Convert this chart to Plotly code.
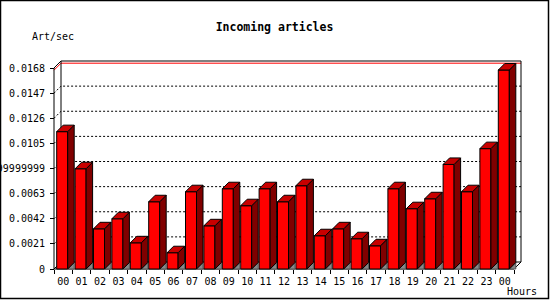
import plotly.graph_objects as go

# ---------------- data ----------------
hours = ["00", "01", "02", "03", "04", "05", "06", "07", "08", "09", "10", "11",
         "12", "13", "14", "15", "16", "17", "18", "19", "20", "21", "22", "23", "00"]
rates = [0.01148, 0.00838, 0.00336, 0.00420, 0.00219, 0.00562, 0.00136, 0.00646,
         0.00361, 0.00671, 0.00529, 0.00671, 0.00562, 0.00696, 0.00278, 0.00336,
         0.00253, 0.00194, 0.00671, 0.00504, 0.00587, 0.00874, 0.00646, 0.01006,
         0.01663]
y_ticks = [0, 0.0021, 0.0042, 0.0063, 0.0084, 0.0105, 0.0126, 0.0147, 0.0168]
y_tick_text = ["0", "0.0021", "0.0042", "0.0063", "0.0083999999999999",
               "0.0105", "0.0126", "0.0147", "0.0168"]
title_text = "Incoming articles"
y_title = "Art/sec"
x_title = "Hours"

# ---------------- geometry (pixels) ----------------
W, H = 550, 300
ML, MR, MT, MB = 44, 24, 56, 26
PW, PH = W - ML - MR, H - MT - MB
AX_X, AX_Y = 54, 269          # front axes position in pixels
CAT_PX = 18.4                 # pixels per category
STEP_PX = 25.125              # pixels per tick step
STEP = y_ticks[1] - y_ticks[0]
VPP = STEP / STEP_PX          # value per pixel

def xd(px):
    return (px - AX_X) / CAT_PX - 0.5

def yd(py):
    return (AX_Y - py) * VPP

def xp(px):
    return (px - ML) / PW

def yp(py):
    return (H - MB - py) / PH

n = len(rates)
xs = list(range(n))
xmin, xmax = -0.5, n - 0.5
ymax = y_ticks[-1]
dxf, dyf = 7 / CAT_PX, 7 * VPP        # wall depth
dxb, dyb = 6.5 / CAT_PX, 6.5 * VPP    # bar depth
bw = 11 / CAT_PX
boff = -1 / CAT_PX

FONT = "DejaVu Sans Mono"
RED, TOP, SIDE = "#ff0000", "#c80000", "#800000"

shapes = []

def path(points):
    return "M " + " L ".join(f"{a},{b}" for a, b in points)

# back-wall grid lines (with their 3D diagonal part)
for t in y_ticks[1:-1]:
    shapes.append(dict(type="path", xref="x", yref="y", layer="below",
                       path=path([(xmin, t), (xmin + dxf, t + dyf), (xmax + dxf, t + dyf)]),
                       line=dict(color="black", width=1, dash="2px,2px")))
# red top line
s = -2.2 * VPP
shapes.append(dict(type="path", xref="x", yref="y", layer="below",
                   path=path([(xmin, ymax + s), (xmin + dxf, ymax + dyf + s),
                              (xmax + dxf, ymax + dyf + s)]),
                   line=dict(color="red", width=1)))
# frame
shapes.append(dict(type="path", xref="x", yref="y", layer="below",
                   path=path([(xmin, 0), (xmin, ymax), (xmin + dxf, ymax + dyf),
                              (xmax + dxf, ymax + dyf), (xmax + dxf, dyf), (xmax, 0)]) + " Z",
                   line=dict(color="black", width=1)))
shapes.append(dict(type="path", xref="x", yref="y", layer="below",
                   path=path([(xmin + dxf, ymax + dyf), (xmin + dxf, dyf), (xmax + dxf, dyf)]),
                   line=dict(color="black", width=1)))
shapes.append(dict(type="path", xref="x", yref="y", layer="below",
                   path=path([(xmin, 0), (xmin + dxf, dyf)]),
                   line=dict(color="black", width=1)))
# image border
shapes.append(dict(type="rect", xref="paper", yref="paper",
                   x0=xp(0.5), x1=xp(548.5), y0=yp(0.5), y1=yp(298.5),
                   line=dict(color="black", width=1.5), layer="above"))

fig = go.Figure()

# front faces
fig.add_trace(go.Bar(x=[x + boff for x in xs], y=rates, width=bw,
                     marker=dict(color=RED, line=dict(color="black", width=1)),
                     hoverinfo="skip"))

# floor triangles, side faces, top faces
tri_x, tri_y, side_x, side_y, top_x, top_y = [], [], [], [], [], []
for x, v in zip(xs, rates):
    xl = x + boff - bw / 2
    xr = x + boff + bw / 2
    tri_x += [xr, xr + dxb, xr + dxb, xr, None]
    tri_y += [0, dyb, 0, 0, None]
    side_x += [xr, xr, xr + dxb, xr + dxb, xr, None]
    side_y += [0, v, v + dyb, dyb, 0, None]
    top_x += [xl, xl + dxb, xr + dxb, xr, xl, None]
    top_y += [v, v + dyb, v + dyb, v, v, None]

fig.add_trace(go.Scatter(x=tri_x, y=tri_y, mode="lines", fill="toself",
                         fillcolor="#888888", line=dict(color="#555555", width=1),
                         hoverinfo="skip"))
fig.add_trace(go.Scatter(x=side_x, y=side_y, mode="lines", fill="toself",
                         fillcolor=SIDE, line=dict(color="black", width=1),
                         hoverinfo="skip"))
fig.add_trace(go.Scatter(x=top_x, y=top_y, mode="lines", fill="toself",
                         fillcolor=TOP, line=dict(color="black", width=1),
                         hoverinfo="skip"))

fig.update_layout(
    width=W, height=H,
    margin=dict(l=ML, r=MR, t=MT, b=MB, pad=0),
    paper_bgcolor="white", plot_bgcolor="white",
    showlegend=False, hovermode=False,
    font=dict(family=FONT, size=10, color="black"),
    title=dict(text="<b>" + title_text + "</b>", x=(274.5) / W, xref="container",
               xanchor="center", y=1 - 27 / H, yref="container", yanchor="middle",
               font=dict(family=FONT, size=11.5, color="black")),
    xaxis=dict(range=[xd(ML), xd(W - MR)], anchor="free", position=yp(AX_Y),
               showgrid=False, zeroline=False, showline=False,
               tickmode="array", tickvals=xs, ticktext=hours, ticks="",
               ticklabelstandoff=5,
               minor=dict(tickmode="array", tickvals=[x - 0.5 for x in xs] + [xmax],
                          ticks="outside", ticklen=4, tickcolor="black", showgrid=False),
               tickfont=dict(family=FONT, size=10, color="black"),
               fixedrange=True, automargin=False),
    yaxis=dict(range=[yd(H - MB), yd(MT)], anchor="free", position=xp(AX_X),
               showgrid=False, zeroline=False, showline=False,
               tickmode="array", tickvals=y_ticks, ticktext=y_tick_text,
               ticks="outside", ticklen=4, tickcolor="black",
               ticklabelstandoff=3,
               tickfont=dict(family=FONT, size=10, color="black"),
               fixedrange=True, automargin=False),
    shapes=shapes,
    annotations=[
        dict(text=y_title, xref="paper", yref="paper", x=xp(30), y=yp(36.7),
             xanchor="left", yanchor="middle", showarrow=False,
             font=dict(family=FONT, size=10, color="black")),
        dict(text=x_title, xref="paper", yref="paper", x=xp(504.5), y=yp(291.5),
             xanchor="left", yanchor="middle", showarrow=False,
             font=dict(family=FONT, size=10, color="black")),
    ],
)

fig.write_html("out.html", config={"displayModeBar": False})
